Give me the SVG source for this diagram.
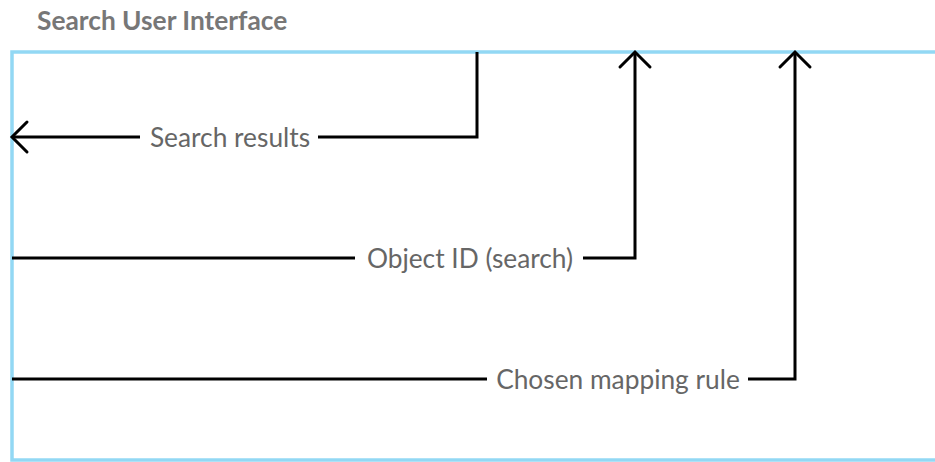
<svg xmlns="http://www.w3.org/2000/svg" width="935" height="462" viewBox="0 0 935 462">
<style>
.frame{fill:none;stroke:#92d8f4;stroke-width:3.5}
.title{font-family:Lato,"Liberation Sans",sans-serif;font-weight:bold;font-size:26.3px;fill:#777}
.lbl{font-family:Lato,"Liberation Sans",sans-serif;font-size:26.3px;fill:#666;text-anchor:middle;dominant-baseline:central}
.ln{fill:none;stroke:#000;stroke-width:3}
</style>
<defs>
<marker id="arr" markerUnits="userSpaceOnUse" viewBox="-20 -20 40 40" refX="0" refY="0" markerWidth="40" markerHeight="40" orient="auto">
<path d="M-15,-15 L0,0 L-15,15" fill="none" stroke="#000" stroke-width="3" stroke-linecap="round"/>
</marker>
</defs>
<g id="search-ui">
<rect class="frame" x="12" y="52" width="940" height="408"/>
<text class="title" x="37" y="30">Search User Interface</text>
</g>
<g id="connectors">
<path class="ln" d="M477,52 L477,137 L318,137"/>
<path class="ln" d="M140,137 L12,137" marker-end="url(#arr)"/>
<text class="lbl" x="230" y="137">Search results</text>
<path class="ln" d="M12,258 L355,258"/>
<path class="ln" d="M583,258 L635,258 L635,52" marker-end="url(#arr)"/>
<text class="lbl" x="470" y="258">Object ID (search)</text>
<path class="ln" d="M12,379 L487,379"/>
<path class="ln" d="M748,379 L795,379 L795,52" marker-end="url(#arr)"/>
<text class="lbl" x="618" y="379">Chosen mapping rule</text>
</g>
</svg>
